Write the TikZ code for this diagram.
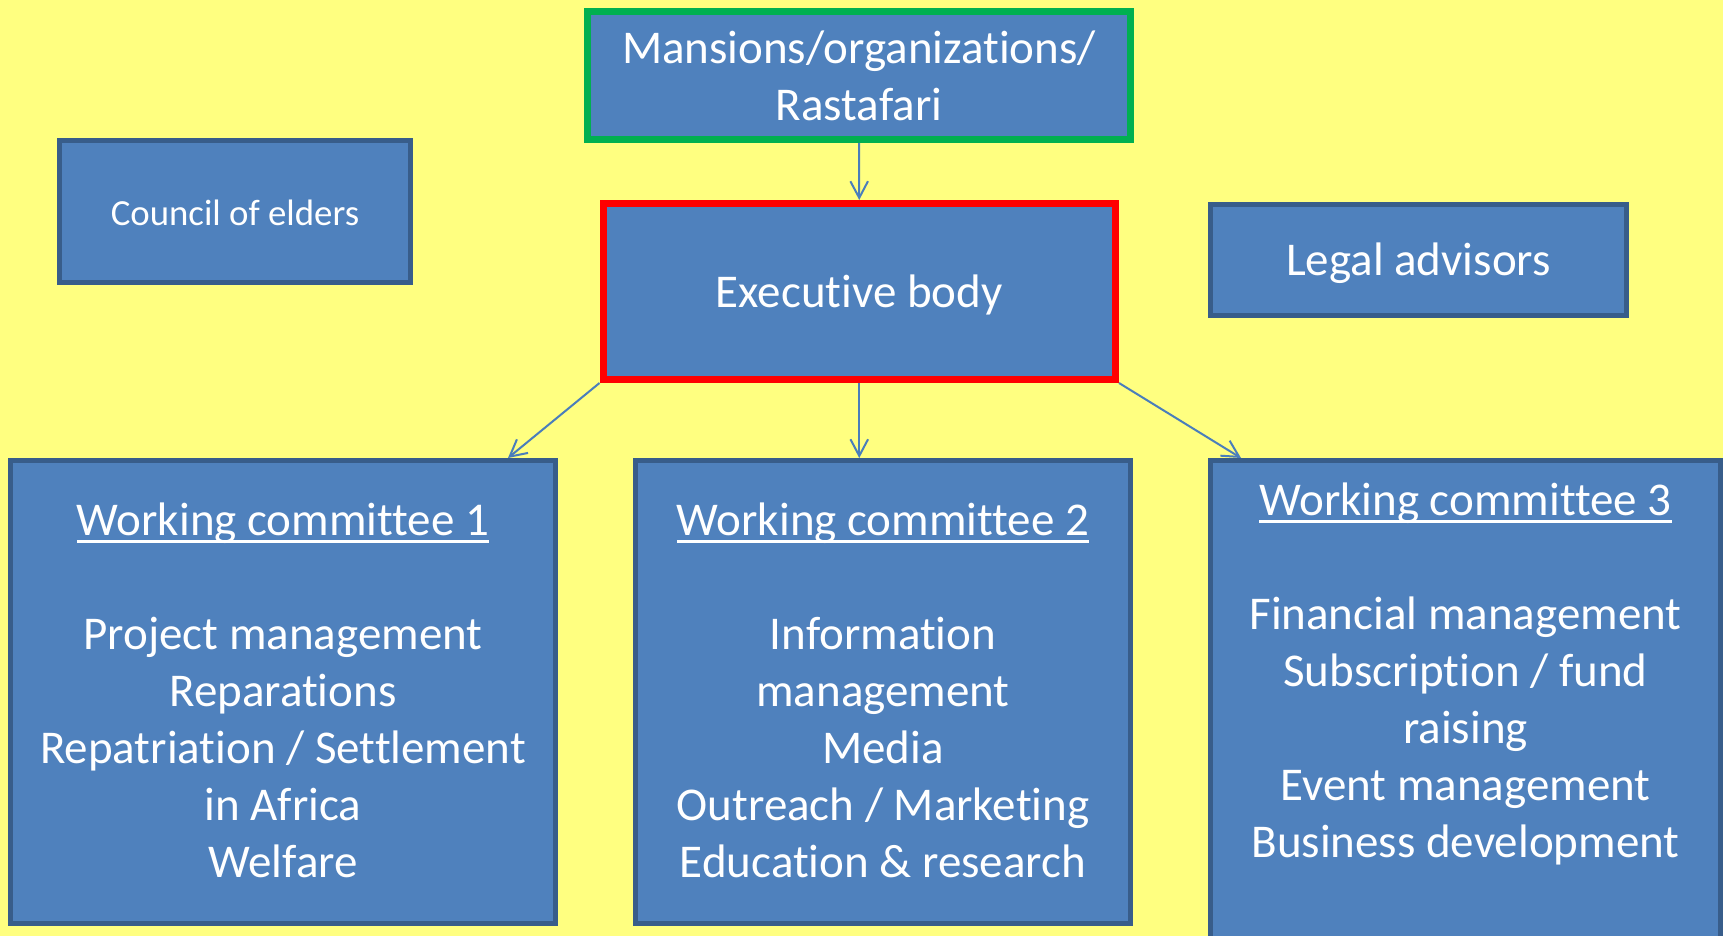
\documentclass[tikz,border=0pt]{standalone}
\usepackage{fontspec}
\setmainfont{Carlito}[Ligatures=NoCommon]
\usetikzlibrary{arrows.meta}
\definecolor{bgyellow}{HTML}{FFFF80}
\definecolor{boxblue}{HTML}{4F81BD}
\definecolor{boxedge}{HTML}{385D8A}
\definecolor{linkblue}{HTML}{4A7EBB}
\definecolor{pptgreen}{HTML}{00B050}
\newcommand\undl[1]{\setbox0\hbox{#1}\rlap{\rule[-3.9pt]{\wd0}{1.25pt}}\box0}
\newcommand\topstrut{\rule{0pt}{20pt}}
\newcommand\botstrut[1]{\rule[-#1]{0pt}{#1}}
\newcommand\onestrut{\rule[-6pt]{0pt}{28pt}}
\newcommand\smallstrut{\rule[-5.5pt]{0pt}{25.5pt}}
\begin{document}
\begin{tikzpicture}[x=0.5pt,y=-0.5pt,
  box/.style={rectangle, fill=boxblue, draw=boxedge, line width=2.5pt, line join=miter,
    text=white, inner sep=0pt, align=center, font=\fontsize{23.5}{28.55}\selectfont},
  conn/.style={draw=linkblue, line width=1pt, -{Straight Barb[length=8.3pt,width=8.8pt]}}]
\fill[bgyellow] (0,0) rectangle (1723,936);
\useasboundingbox (0,0) rectangle (1723,936);
\clip (0,0) rectangle (1723,936);

\node[box, draw=pptgreen, line width=3.5pt, minimum width=271.5pt, minimum height=64pt]
  (mans) at (859,75.5) {Mansions/organizations/\\Rastafari};
\node[box, draw=red, line width=3.5pt, minimum width=256.25pt, minimum height=88pt]
  (exec) at (859.25,291.5) {\onestrut Executive body};
\node[box, minimum width=175.5pt, minimum height=71pt, font=\fontsize{18.4}{22.4}\selectfont]
  (council) at (235,211.5) {\smallstrut Council of elders};
\node[box, minimum width=208pt, minimum height=55.5pt]
  (legal) at (1418.5,260) {\onestrut Legal advisors};

\node[box, minimum width=272.5pt, minimum height=231.5pt] (wc1) at (283,692)
  {\topstrut\undl{Working committee 1}\\ \\Project management\\Reparations\\Repatriation / Settlement\\in Africa\\Welfare\botstrut{5.7pt}};
\node[box, minimum width=247.5pt, minimum height=231.5pt] (wc2) at (883,692)
  {\topstrut\undl{Working committee 2}\\ \\Information\\management\\Media\\Outreach / Marketing\\Education \& research\botstrut{5.7pt}};
\node[box, minimum width=255pt, minimum height=269.75pt] (wc3) at (1465.5,730.25)
  {\topstrut\undl{Working committee 3}\\ \\Financial management\\Subscription / fund\\raising\\Event management\\Business development\botstrut{63.95pt}};

\draw[conn] (mans.south) -- (exec.north);
\draw[conn] (exec.south) -- (exec.south |- wc2.north);
\draw[conn] (exec.south west) -- ([xshift=-25pt]wc1.north east);
\draw[conn] (exec.south east) -- ([xshift=16.5pt]wc3.north west);
\end{tikzpicture}
\end{document}
